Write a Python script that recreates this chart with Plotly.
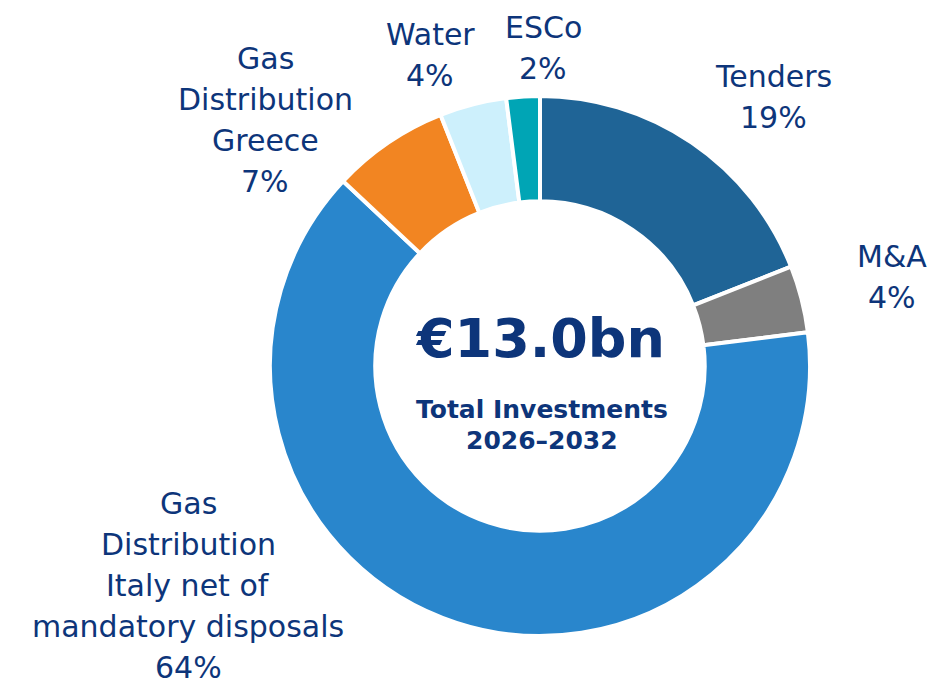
import plotly.graph_objects as go

# ---- data ----
categories = ["Tenders", "M&A", "Gas Distribution Italy net of mandatory disposals",
              "Gas Distribution Greece", "Water", "ESCo"]
shares = [19, 4, 64, 7, 4, 2]
label_lines = [
    ["Tenders", "19%"],
    ["M&A", "4%"],
    ["Gas", "Distribution", "Italy net of", "mandatory disposals", "64%"],
    ["Gas", "Distribution", "Greece", "7%"],
    ["Water", "4%"],
    ["ESCo", "2%"],
]
total_text = "€13.0bn"
subtitle_lines = ["Total Investments", "2026–2032"]

# ---- style ----
colors = ["#1f6496", "#7f7f7f", "#2986cc", "#f28522", "#cdf0fc", "#00a5b5"]
TXT = "#0d357a"
FONT = "DejaVu Sans"
OFF = 8  # page body margin
W, H = 938 - OFF, 687 - OFF
CX, CY, R = 540 - OFF, 366 - OFF, 270
# label block centre (x) and first-line centre (y), pixels in window
label_pos = [(773, 77), (892, 256), (188, 503), (265, 59), (430, 35), (543, 27)]
LINE_GAP = 41

fig = go.Figure(go.Pie(
    labels=categories, values=shares, hole=0.61, sort=False,
    direction="clockwise", rotation=0, textinfo="none",
    marker=dict(colors=colors, line=dict(color="white", width=4)),
    domain=dict(x=[(CX - R) / W, (CX + R) / W],
                y=[(H - CY - R) / H, (H - CY + R) / H]),
    showlegend=False, hoverinfo="label+percent",
))

ann = []
def px(x, y):
    return (x - OFF) / W, 1 - (y - OFF) / H

for lines, (x, y) in zip(label_lines, label_pos):
    for i, t in enumerate(lines):
        ax, ay = px(x, y + i * LINE_GAP)
        ann.append(dict(text=t, x=ax, y=ay, xref="paper", yref="paper",
                        showarrow=False, xanchor="center", yanchor="middle",
                        borderpad=0,
                        font=dict(family=FONT, size=30, color=TXT)))

ax, ay = px(540, 338)
ann.append(dict(text="<b>" + total_text + "</b>", x=ax, y=ay, xref="paper", yref="paper",
                showarrow=False, xanchor="center", yanchor="middle",
                font=dict(family=FONT, size=54, color=TXT)))
for i, t in enumerate(subtitle_lines):
    ax, ay = px(542, 409 + i * 31)
    ann.append(dict(text="<b>" + t + "</b>", x=ax, y=ay, xref="paper", yref="paper",
                    showarrow=False, xanchor="center", yanchor="middle",
                    font=dict(family=FONT, size=25, color=TXT)))

fig.update_layout(width=W, height=H, margin=dict(l=0, r=0, t=0, b=0),
                  paper_bgcolor="white", plot_bgcolor="white", annotations=ann)
fig.write_html("out.html")
